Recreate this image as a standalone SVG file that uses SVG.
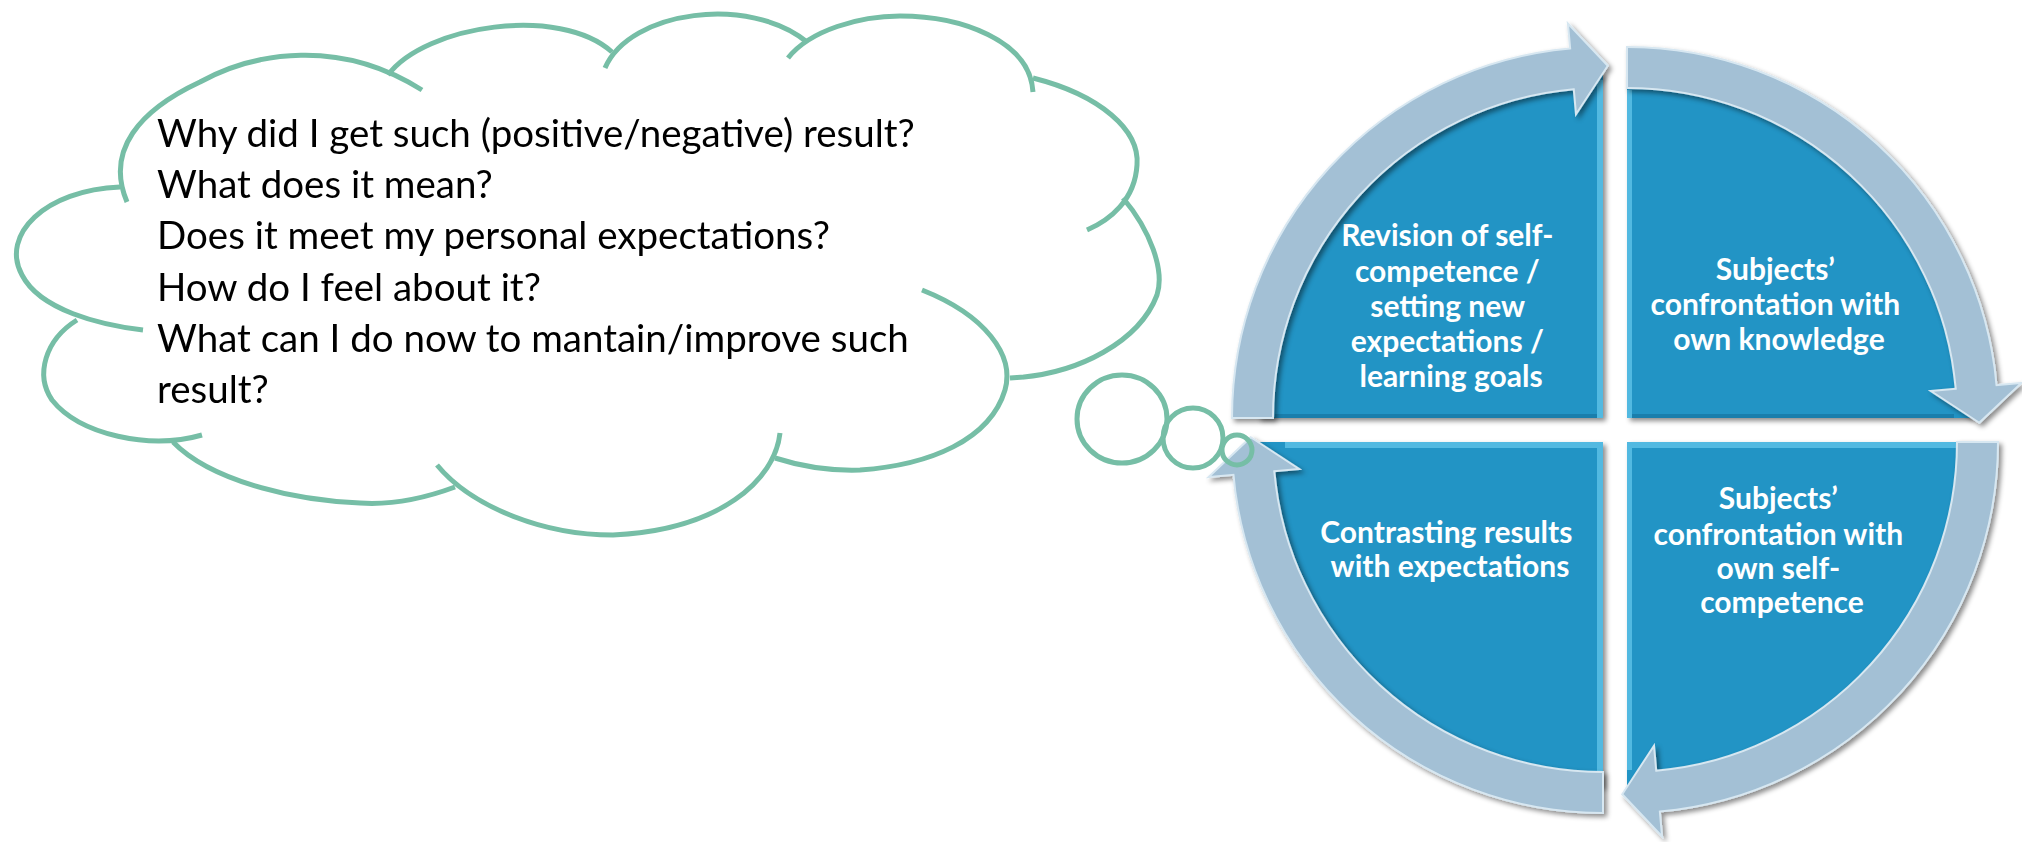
<svg xmlns="http://www.w3.org/2000/svg" width="2022" height="842" viewBox="0 0 2022 842">
  <defs>
    <style>
      .pie { fill: #2194C5; }
      .band { fill: #A3C0D5; stroke: #D7E7F1; stroke-width: 2; stroke-linejoin: miter; }
      .lite { fill: #63C6EA; opacity: 0.75; }
      .dark { fill: #14709B; opacity: 0.6; }
      .label { font-family: Lato, "Open Sans", sans-serif; font-weight: 700; font-size: 30px; fill: #FFFFFF; text-anchor: middle; }
      .cloud { fill: none; stroke: #76BEA6; stroke-width: 5; }
      .thought { font-family: Lato, "Open Sans", sans-serif; font-size: 38.5px; fill: #000000; }
    </style>
    <filter id="shadow" x="-10%" y="-10%" width="125%" height="125%">
      <feDropShadow dx="3" dy="3" stdDeviation="2.5" flood-color="#000000" flood-opacity="0.45"/>
    </filter>
    <!-- quarter disc for the top-left cell; the other cells are rotations about (1615,430) -->
    <path id="pie" d="M1603,418 H1258 A345,345 0 0 1 1603,73 Z"/>
    <!-- curved arrow along the rim of the top-left cell -->
    <path id="band" d="M1232,418 A371,371 0 0 1 1570.15,48.46 L1567.93,23.56 L1607.8,65.7 L1575.99,114.2 L1573.78,89.3 A330,330 0 0 0 1273,418 Z"/>
  </defs>

  <rect width="2022" height="842" fill="#FFFFFF"/>

  <!-- cycle cells -->
  <g id="node-revision">
    <g filter="url(#shadow)"><use href="#pie" class="pie"/></g>
    <rect class="lite" x="1597" y="80" width="6" height="338"/>
    <rect class="dark" x="1275" y="414" width="322" height="4"/>
    <text class="label">
      <tspan x="1451" y="246">Revision of self-</tspan>
      <tspan x="1451" y="282">competence /</tspan>
      <tspan x="1451" y="317">setting new</tspan>
      <tspan x="1451" y="352">expectations /</tspan>
      <tspan x="1451" y="387">learning goals</tspan>
    </text>
  </g>

  <g id="node-knowledge">
    <g filter="url(#shadow)"><use href="#pie" class="pie" transform="rotate(90 1615 430)"/></g>
    <rect class="lite" x="1627" y="90" width="5" height="328" opacity="0.35"/>
    <rect class="dark" x="1632" y="414" width="322" height="4"/>
    <text class="label">
      <tspan x="1779" y="280">Subjects’</tspan>
      <tspan x="1779" y="315">confrontation with</tspan>
      <tspan x="1779" y="350">own knowledge</tspan>
    </text>
  </g>

  <g id="node-self-competence">
    <g filter="url(#shadow)"><use href="#pie" class="pie" transform="rotate(180 1615 430)"/></g>
    <rect class="lite" x="1627" y="442" width="330" height="6"/>
    <rect class="lite" x="1627" y="448" width="5" height="322" opacity="0.35"/>
    <text class="label">
      <tspan x="1782" y="509">Subjects’</tspan>
      <tspan x="1782" y="545">confrontation with</tspan>
      <tspan x="1782" y="579">own self-</tspan>
      <tspan x="1782" y="613">competence</tspan>
    </text>
  </g>

  <g id="node-contrasting">
    <g filter="url(#shadow)"><use href="#pie" class="pie" transform="rotate(270 1615 430)"/></g>
    <rect class="lite" x="1285" y="442" width="318" height="6"/>
    <rect class="lite" x="1597" y="448" width="6" height="325"/>
    <text class="label">
      <tspan x="1450" y="543">Contrasting results</tspan>
      <tspan x="1450" y="577">with expectations</tspan>
    </text>
  </g>

  <!-- clockwise arrows linking the cells -->
  <g id="connectors" filter="url(#shadow)">
    <use href="#band" class="band"/>
    <use href="#band" class="band" transform="rotate(90 1615 430)"/>
    <use href="#band" class="band" transform="rotate(180 1615 430)"/>
    <use href="#band" class="band" transform="rotate(270 1615 430)"/>
  </g>

  <!-- thought cloud -->
  <g id="thought-cloud">
    <g class="cloud">
      <path d="M127,202 C105,150 140,110 200,82 C255,52 340,38 422,90"/>
      <path d="M388,75 C425,25 560,5 612,52"/>
      <path d="M605,68 C630,10 750,-5 807,42"/>
      <path d="M788,58 C810,30 860,16 900,16 C960,16 1030,40 1033,92"/>
      <path d="M1033,78 C1100,95 1140,130 1137,165 C1135,200 1110,220 1087,230"/>
      <path d="M1123,198 C1150,230 1165,270 1157,295 C1140,340 1080,375 1010,378"/>
      <path d="M922,290 C985,315 1015,355 1005,390 C990,440 930,465 860,470 C830,471 800,466 775,458"/>
      <path d="M780,433 C775,480 720,530 613,535 C540,535 470,505 437,465"/>
      <path d="M455,487 C420,500 390,505 360,503 C290,500 210,480 173,442"/>
      <path d="M202,435 C150,450 80,435 52,400 C35,375 45,340 77,320"/>
      <path d="M143,330 C100,325 40,310 22,275 C0,235 45,190 120,187"/>
      <ellipse cx="1122" cy="419" rx="45" ry="44"/>
      <circle cx="1193" cy="438" r="30"/>
      <circle cx="1237" cy="450" r="15"/>
    </g>
    <text class="thought">
      <tspan x="157" y="147">Why did I get such (positive/negative) result?</tspan>
      <tspan x="157" y="198">What does it mean?</tspan>
      <tspan x="157" y="249">Does it meet my personal expectations?</tspan>
      <tspan x="157" y="301">How do I feel about it?</tspan>
      <tspan x="157" y="352">What can I do now to mantain/improve such</tspan>
      <tspan x="157" y="403">result?</tspan>
    </text>
  </g>
</svg>
